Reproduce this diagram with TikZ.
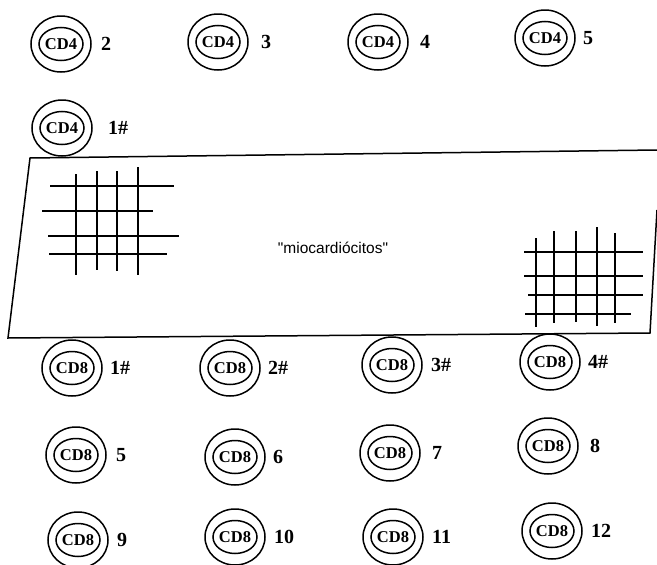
\documentclass[tikz,border=0pt]{standalone}
\usepackage{fontspec}
\setmainfont{Liberation Serif}
\newfontfamily\helv{Liberation Sans}
\begin{document}
\begin{tikzpicture}[x=1pt,y=-1pt,
  cdtext/.style={inner sep=0pt,font=\fontsize{16.5}{16.5}\selectfont\bfseries},
  numlab/.style={inner sep=0pt,anchor=west,font=\fontsize{20}{20}\selectfont\bfseries},
  ring/.style={line width=1.5pt},
  gridline/.style={line width=1.6pt},
  edge/.style={line width=1.5pt}]
\useasboundingbox (0,0) rectangle (657,565);
% cells
\foreach \n/\t/\x/\y/\lab/\lx in {
  a/CD4/61/44/2/101, b/CD4/218/42/3/261, c/CD4/378/42/4/420, d/CD4/545/38/5/583,
  e/CD4/62/128/1\#/108,
  f/CD8/72/368/1\#/110, g/CD8/230/368/2\#/268, h/CD8/392/365/3\#/431, i/CD8/550/362/4\#/588,
  j/CD8/76/455/5/116, k/CD8/235/457/6/273, l/CD8/390/453/7/432, m/CD8/548/446/8/590,
  n/CD8/78/540/9/117, o/CD8/235/537/10/274, p/CD8/393/537/11/432, q/CD8/552/531/12/591}{
  \node[cdtext] (c\n) at (\x,\y) {\t};
  \draw[ring] (c\n.center) ellipse [x radius=22, y radius=16.5];
  \draw[ring] (c\n.center) ellipse [x radius=30, y radius=28];
  \node[numlab] (l\n) at (\lx,\y) {\lab};
}
% membrane plate
\coordinate (tl) at (30,158);
\coordinate (tr) at (657,150);
\coordinate (bl) at (8,338);
\coordinate (br) at (650,333);
\coordinate (rt) at (657,210);
\draw[edge] (tr) -- (tl) -- (bl) -- (br) -- (rt);
\node[inner sep=0pt,font=\helv\fontsize{15.5}{15.5}\selectfont] (mio) at (333,248) {"miocardiócitos"};
% left grid
\foreach \y/\a/\b in {186/50/174, 211/42/153, 236/48/179, 254/49/167}
  \draw[gridline] (\a,\y) -- (\b,\y);
\foreach \x/\a/\b in {76/174/275, 97/171/270, 117/171/271, 138/167/275}
  \draw[gridline] (\x,\a) -- (\x,\b);
% right grid
\foreach \y/\a/\b in {252/524/643, 276/524/643, 295/528/643, 314/525/631}
  \draw[gridline] (\a,\y) -- (\b,\y);
\foreach \x/\a/\b in {536/238/327, 554/231/323, 576/231/322, 597/227/326, 615/233/323}
  \draw[gridline] (\x,\a) -- (\x,\b);
\end{tikzpicture}
\end{document}
